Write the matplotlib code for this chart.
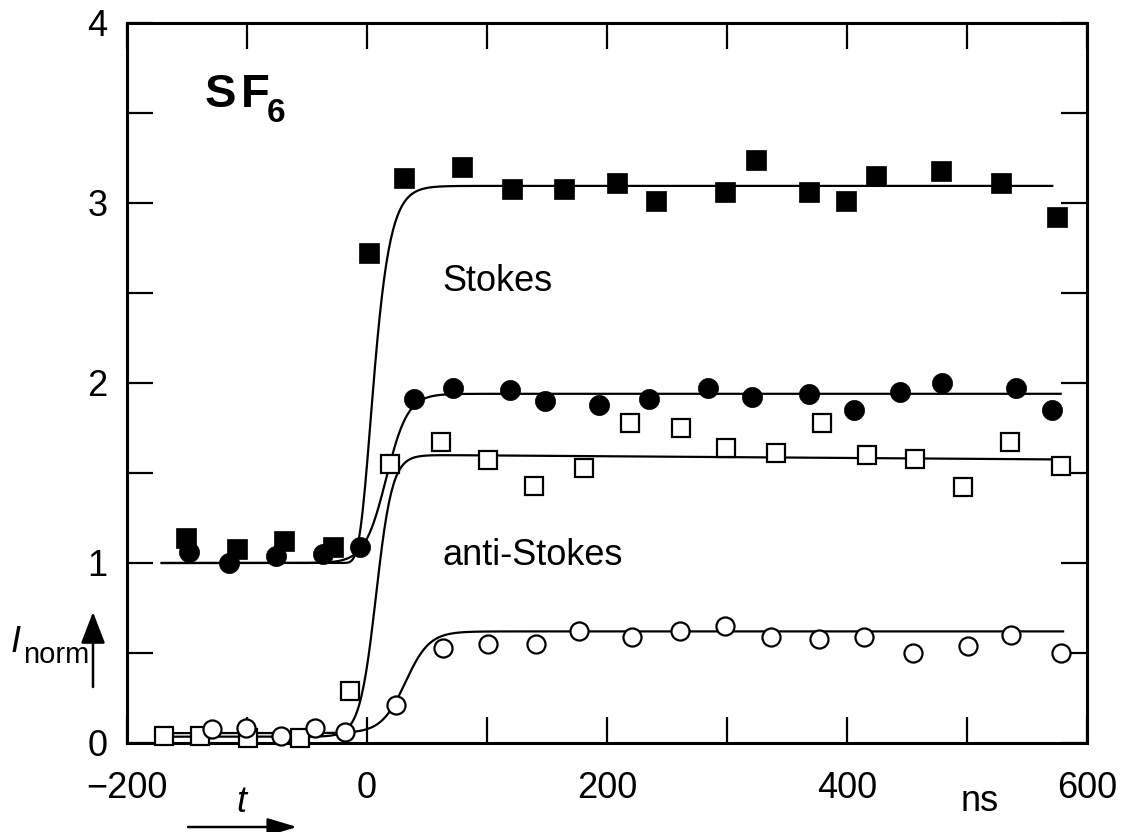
import numpy as np
import matplotlib
matplotlib.use("Agg")
import matplotlib.pyplot as plt

plt.rcParams['font.family'] = ['Liberation Sans', 'DejaVu Sans']

# ---- data ----
stokes_sq_t = [-151, -108, -69, -28, 2, 31, 79, 121, 164, 208, 241, 298, 324, 368, 399, 424, 478, 528, 575]
stokes_sq_y = [1.14, 1.08, 1.12, 1.09, 2.72, 3.14, 3.20, 3.08, 3.08, 3.11, 3.01, 3.06, 3.24, 3.06, 3.01, 3.15, 3.18, 3.11, 2.92]

stokes_ci_t = [-148, -115, -76, -37, -6, 39, 72, 119, 148, 193, 235, 284, 321, 368, 406, 444, 479, 541, 571]
stokes_ci_y = [1.06, 1.00, 1.04, 1.05, 1.09, 1.91, 1.97, 1.96, 1.90, 1.88, 1.91, 1.97, 1.92, 1.94, 1.85, 1.95, 2.00, 1.97, 1.85]

anti_sq_t = [-169, -139, -99, -56, -14, 19, 62, 101, 139, 181, 219, 262, 299, 341, 379, 417, 457, 497, 536, 578]
anti_sq_y = [0.04, 0.04, 0.03, 0.03, 0.29, 1.55, 1.67, 1.57, 1.43, 1.53, 1.78, 1.75, 1.64, 1.61, 1.78, 1.60, 1.58, 1.42, 1.67, 1.54]

anti_ci_t = [-129, -101, -72, -43, -18, 24, 63, 101, 141, 177, 221, 261, 298, 337, 377, 414, 455, 501, 537, 578]
anti_ci_y = [0.08, 0.085, 0.04, 0.085, 0.06, 0.21, 0.53, 0.55, 0.55, 0.62, 0.59, 0.62, 0.65, 0.59, 0.58, 0.59, 0.50, 0.54, 0.60, 0.50]

# fitted step curves: base, plateau, centre, width, asymmetry, drift, start, end
fit_base = [1.0, 1.0, 0.035, 0.055]
fit_top = [3.095, 1.94, 1.6024, 0.62]
fit_t0 = [-24.0, 16.0, 7.5, 32.0]
fit_w = [9.0, 9.0, 6.8, 10.0]
fit_nu = [20.0, 1.0, 1.0, 1.0]
fit_drift = [0.0, 0.0, -4.7e-5, 0.0]
fit_start = [-172, -172, -170, -170]
fit_end = [572, 579, 586, 581]

x_major = [-200, 0, 200, 400, 600]
x_minor = [-100, 100, 300, 500]
y_major = [0, 1, 2, 3, 4]
y_minor = [0.5, 1.5, 2.5, 3.5]

W, H = 1121, 832
fig = plt.figure(figsize=(W / 100, H / 100), dpi=100)
ax = fig.add_axes([127 / W, 89 / H, 960 / W, 720 / H])


def fp(x, y):
    return (x / W, 1 - y / H)


# curves
for b, top, t0, w, nu, d, s, e in zip(fit_base, fit_top, fit_t0, fit_w, fit_nu, fit_drift, fit_start, fit_end):
    t = np.linspace(s, e, 800)
    F = (1 + np.exp(-(t - t0) / w)) ** (-nu)
    y = b + (top + d * t - b) * F
    ax.plot(t, y, color='black', lw=1.6, zorder=2, solid_capstyle='butt')

# markers
ax.plot(stokes_sq_t, stokes_sq_y, 's', ms=14.5, mfc='black', mec='black', mew=0.5, zorder=3, clip_on=False)
ax.plot(stokes_ci_t, stokes_ci_y, 'o', ms=14.5, mfc='black', mec='black', mew=0.5, zorder=4, clip_on=False)
ax.plot(anti_sq_t, anti_sq_y, 's', ms=13, mfc='white', mec='black', mew=1.6, zorder=3, clip_on=False)
ax.plot(anti_ci_t, anti_ci_y, 'o', ms=13, mfc='white', mec='black', mew=1.6, zorder=4, clip_on=False)

ax.set_xlim(-200, 600)
ax.set_ylim(0, 4)
ax.set_xticks(x_major)
ax.set_xticks(x_minor, minor=True)
ax.set_yticks(y_major)
ax.set_yticks(y_minor, minor=True)
ax.set_xticklabels(['\u2212200', '0', '200', '400', '600'])
ax.tick_params(which='both', direction='in', length=19, width=1.6, top=True, right=True,
               color='black')
ax.tick_params(axis='x', which='major', pad=20, labelsize=26)
ax.tick_params(axis='y', which='major', pad=14, labelsize=26)
for sp in ax.spines.values():
    sp.set_linewidth(2.2)

# annotations inside the axes
fig.text(*fp(442, 291), 'Stokes', fontsize=26, ha='left', va='baseline')
fig.text(*fp(442, 565), 'anti-Stokes', fontsize=26, ha='left', va='baseline')
fig.text(*fp(205, 107), 'S', fontsize=34, fontweight='bold', ha='left', va='baseline')
fig.text(*fp(241, 107), 'F', fontsize=34, fontweight='bold', ha='left', va='baseline')
fig.text(*fp(267, 122), '6', fontsize=24, fontweight='bold', ha='left', va='baseline')

# axis labels
fig.text(*fp(980, 811), 'ns', fontsize=26, ha='center', va='baseline')
fig.text(*fp(241, 812), 't', fontsize=26, style='italic', ha='center', va='baseline')
fig.text(*fp(11, 652), 'I', fontsize=26, style='italic', ha='left', va='baseline')
fig.text(*fp(23, 663), 'norm', fontsize=21, ha='left', va='baseline')

arrow_kw = dict(arrowstyle='-|>,head_length=0.6,head_width=0.18', mutation_scale=30,
                color='black', lw=1.8, shrinkA=0, shrinkB=0)
fig.add_artist(matplotlib.patches.FancyArrowPatch(fp(188, 827), fp(297, 827),
                                                  transform=fig.transFigure, **arrow_kw))
arrow_kw2 = dict(arrowstyle='-|>,head_length=0.65,head_width=0.25', mutation_scale=30,
                 color='black', lw=1.8, shrinkA=0, shrinkB=0)
fig.add_artist(matplotlib.patches.FancyArrowPatch(fp(93, 687), fp(93, 612),
                                                  transform=fig.transFigure, **arrow_kw2))

fig.savefig('out.png', dpi=100)
